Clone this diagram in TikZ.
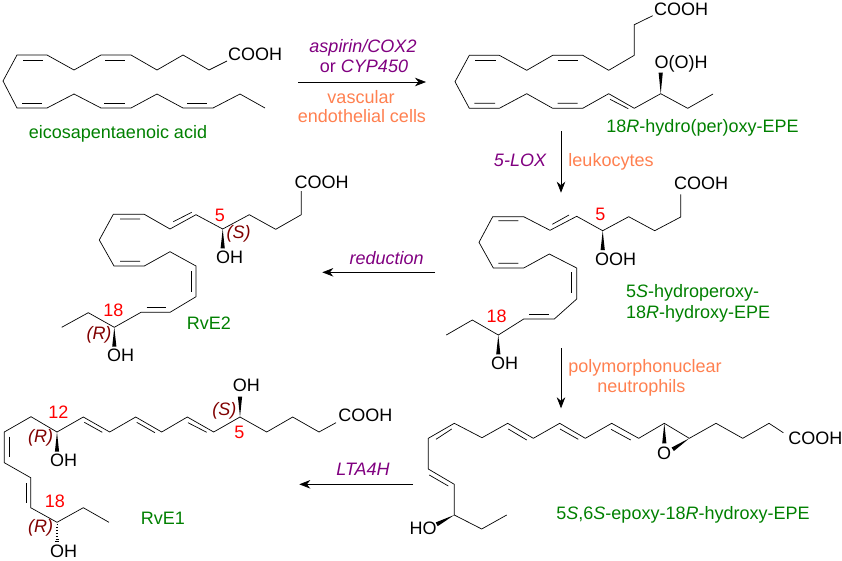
\documentclass[tikz,border=0pt]{standalone}
\usepackage{fontspec}
\setmainfont{Liberation Sans}
\usepackage{tikz}
\usetikzlibrary{
	arrows.meta,
	calc,
}
\definecolor{clrenzyme}{RGB}{128,0,128}
\definecolor{clrcell}{RGB}{255,128,80}
\definecolor{clrcompound}{RGB}{0,128,0}
\definecolor{clrconfig}{RGB}{128,0,0}
\tikzset{default label/.style={
	inner sep=0mm,
	anchor=base,
	font=\fontsize{18}{20}\selectfont,
}}
\newcommand{\wedgebond}[2]{\fill (#1) -- ($(#2)!2.1pt!90:(#1)$) -- ($(#2)!2.1pt!-90:(#1)$) -- cycle;}

\begin{document}
\begin{tikzpicture}[x=1pt, y=-1pt, line width=.7pt]
\useasboundingbox (0,0) rectangle (842,560);

\tikzset{
	grp/.style={default label},
	enz/.style={default label, clrenzyme, font=\fontsize{18}{20}\selectfont\itshape},
	cll/.style={default label, clrcell},
	cmpd/.style={default label, clrcompound},
	num/.style={default label, red},
	cfg/.style={default label, clrconfig, font=\fontsize{18}{20}\selectfont\itshape},
	rxn/.style={-{Stealth[length=11pt,width=8.5pt,inset=3.5pt]}},
}

% eicosapentaenoic acid
\node(cooh1)[grp] at(255,60.5)	{COOH};
\node(epa)[cmpd] at(118,138)		{eicosapentaenoic acid};
\draw (227,61) -- (209,70) -- (183,55) -- (157,70) -- (131,55) -- (101,55) -- (74,70) -- (47,55) -- (17,55)
	-- (3,81) -- (17,108) -- (47,108) -- (74,94) -- (101,108) -- (131,108) -- (157,94) -- (183,108)
	-- (213,108) -- (240,94) -- (265,108);
\draw (23,60.5) -- (43,60.5) (105,60.5) -- (125,60.5);
\draw (22,103) -- (42,103) (104,103) -- (125,103) (187,103) -- (207,103);

% 18R-hydro(per)oxy-EPE
\node(cooh2)[grp] at(681,15)		{COOH};
\node(ooh2)[grp] at(681,68)		{O(O)H};
\node(hepe)[cmpd] at(702.5,132)		{18\textit{R}-hydro(per)oxy-EPE};
\draw (652.7,15.7) -- (634.3,24.7) -- (634.3,55.3) -- (608.7,70.3) -- (582.7,55.3) -- (552.7,55.3) -- (526.7,70.3)
	-- (499.3,55.3) -- (469.3,55.3) -- (455,81.7) -- (469.3,108.3) -- (499.3,108.3) -- (526.7,93.7) -- (552.7,108.3)
	-- (582.7,108.3) -- (608.7,93.7) -- (634.3,108.3) -- (660.7,93.7) -- (687.7,108.3) -- (713,94);
\draw (557.7,60.7) -- (577.7,60.7) (475,60.7) -- (495.7,60.7);
\draw (474.3,103.3) -- (495,103.3) (557.7,103.3) -- (577.7,103.3) (610,99.3) -- (628.3,108.7);
\wedgebond{660.7,93.7}{660.7,72.5}

% 5S-hydroperoxy-18R-hydroxy-EPE
\node(cooh3)[grp] at(701,189.5)	{COOH};
\node(ooh3)[grp] at(615.5,265.5)	{OOH};
\node(oh3)[grp] at(504.5,369.5)	{OH};
\node(c5)[num] at(600.3,220)		{5};
\node(c18)[num] at(496.7,322)		{18};
\node(hpepe1)[cmpd, anchor=base west] at(625.7,297.5)	{5\textit{S}-hydroperoxy-};
\node(hpepe2)[cmpd, anchor=base west] at(625.7,318.5)	{18\textit{R}-hydroxy-EPE};
\draw (680.7,194.3) -- (680.7,217) -- (654.7,230.7) -- (628.7,216.7) -- (602.7,230.7) -- (576.7,216.3) -- (550,230.3)
	-- (523.7,216.7) -- (492.7,216.7) -- (479,242.3) -- (493.3,268) -- (523.7,268) -- (549.3,254) -- (576.7,268)
	-- (576.7,299) -- (554.3,319) -- (523.7,319) -- (498.3,335) -- (472.3,320) -- (446.3,335);
\draw (552.3,224.3) -- (569,215) (498.3,220.7) -- (518.3,220.7) (498.3,263.3) -- (518.3,263.3);
\draw (571.7,272.3) -- (571.7,293.3) (529.3,314.3) -- (549.3,314.3);
\wedgebond{602.7,230.7}{602.7,250}
\wedgebond{498.3,335}{498.3,354.3}

% RvE2
\node(cooh4)[grp] at(321.7,188.5)	{COOH};
\node(oh4a)[grp] at(229.5,263.5)	{OH};
\node(oh4b)[grp] at(120.5,361.5)	{OH};
\node(c5b)[num] at(220,221.5)		{5};
\node(c18b)[num] at(113.3,316.5)	{18};
\node(s4)[cfg] at(238.7,238)		{(S)};
\node(r4)[cfg] at(99,339)			{(R)};
\node(rve2)[cmpd] at(209,329.5)		{RvE2};
\draw (301.3,191) -- (301.3,214.7) -- (275.7,229.3) -- (249.3,214.7) -- (222.7,229) -- (196,214.7) -- (170,229)
	-- (144.3,214.3) -- (113.3,214.3) -- (99.3,240) -- (114,266) -- (144.3,266) -- (170,251.7) -- (196,266)
	-- (196,296.7) -- (170,312.3) -- (141,312.3) -- (114.3,327.3) -- (88.3,312.7) -- (61.7,327.3);
\draw (173.3,221.7) -- (191.7,212.3) (120,219) -- (140,219) (120,261.3) -- (140,261.3);
\draw (191,271) -- (191,291.7) (146.7,307) -- (166,307);
\wedgebond{222.7,229}{222.7,248.3}
\wedgebond{114.3,327.3}{114.3,346.7}

% 5S,6S-epoxy-18R-hydroxy-EPE
\node(cooh5)[grp] at(815.3,444)	{COOH};
\node(oxy5)[grp] at(664,459)		{O};
\node(oh5)[grp] at(423,534)		{HO};
\node(epepe)[cmpd] at(683,519.5)	{5\textit{S},6\textit{S}-epoxy-18\textit{R}-hydroxy-EPE};
\draw (783.3,432.7) -- (769,423.3) -- (742.7,438.3) -- (716,423.3) -- (689.3,438.3) -- (664.3,423.3) -- (638.7,438.3)
	-- (611.7,423.3) -- (585.3,438.3) -- (559.7,423.3) -- (533.3,438.3) -- (507.7,423.3) -- (482,437.7) -- (454.3,423.3)
	-- (428.3,438.3) -- (428.3,469) -- (454.3,484.3) -- (454.3,515) -- (481.7,529) -- (506.7,515);
\draw (611,429.3) -- (630.7,440) (560,429) -- (578.3,439.3) (508.3,429) -- (526.7,440);
\draw (436,439.3) -- (451.7,429) (429.3,475) -- (448.3,486);
\wedgebond{454.3,515}{436.7,524.3}
\wedgebond{664.3,423.3}{664.3,443.3}
\wedgebond{689.3,438.3}{672.7,449.3}

% RvE1
\node(cooh6)[grp] at(365.3,421)	{COOH};
\node(oh6a)[grp] at(246.3,391)	{OH};
\node(oh6b)[grp] at(63.7,466.5)	{OH};
\node(oh6c)[grp] at(63.7,557)		{OH};
\node(c5c)[num] at(239.3,438.5)		{5};
\node(c12)[num] at(58.3,418)		{12};
\node(c18c)[num] at(55,507.5)		{18};
\node(s6)[cfg] at(224.3,415)		{(S)};
\node(r6a)[cfg] at(40.7,442.5)		{(R)};
\node(r6b)[cfg] at(40.7,532.5)		{(R)};
\node(rve1)[cmpd] at(163,524)		{RvE1};
\draw (336,422.7) -- (319,432) -- (292.7,417) -- (266.7,432) -- (240,417) -- (213.7,432) -- (187.3,417) -- (161.7,432)
	-- (135.7,417) -- (109.7,432) -- (83.3,417) -- (57,432) -- (31,416.7) -- (4.3,432) -- (4.3,462.7) -- (30.7,477.7)
	-- (30.7,507.7) -- (57,522.3) -- (83.3,507.7) -- (109,522.3);
\draw (188,422.7) -- (206.7,432.3) (136.7,422.3) -- (155,432.7) (84.3,422.3) -- (102.3,432.3);
\draw (9,436.7) -- (9,456.7) (26,483.3) -- (26,502.7);
\wedgebond{240,417}{240,396.7}
\wedgebond{57,432}{57,451.7}
\foreach \ya/\wa in {524/.4,527/.6,530/.8,533/1,536/1.3,539/1.5,541.5/1.8}
	\draw[line width=.7pt] (57-\wa,\ya) -- (57+\wa,\ya);

% reactions
\coordinate (a1s) at (298,82);
\coordinate (a1e) at (426,82);
\coordinate (a2s) at (561,131);
\coordinate (a2e) at (561,192.7);
\coordinate (a3s) at (435,272.3);
\coordinate (a3e) at (322.3,272.3);
\coordinate (a4s) at (561,348);
\coordinate (a4e) at (561,408.3);
\coordinate (a5s) at (413,484.3);
\coordinate (a5e) at (299.3,484.3);
\draw[rxn] (a1s) -- (a1e);
\draw[rxn] (a2s) -- (a2e);
\draw[rxn] (a3s) -- (a3e);
\draw[rxn] (a4s) -- (a4e);
\draw[rxn] (a5s) -- (a5e);

\node(e1)[enz] at(363,52)			{aspirin/COX2};
\node(e2)[enz] at(364,72)			{\upshape or \itshape CYP450};
\node(l1)[cll] at(361,103)			{vascular};
\node(l2)[cll] at(362,122)			{endothelial cells};
\node(e3)[enz] at(520,166.5)		{5-LOX};
\node(l3)[cll] at(611,166.5)		{leukocytes};
\node(e4)[enz] at(386.7,264)		{reduction};
\node(l4)[cll] at(645,372)			{polymorphonuclear};
\node(l5)[cll] at(641.3,392.5)		{neutrophils};
\node(e5)[enz] at(363,475)			{LTA4H};

\end{tikzpicture}
\end{document}
